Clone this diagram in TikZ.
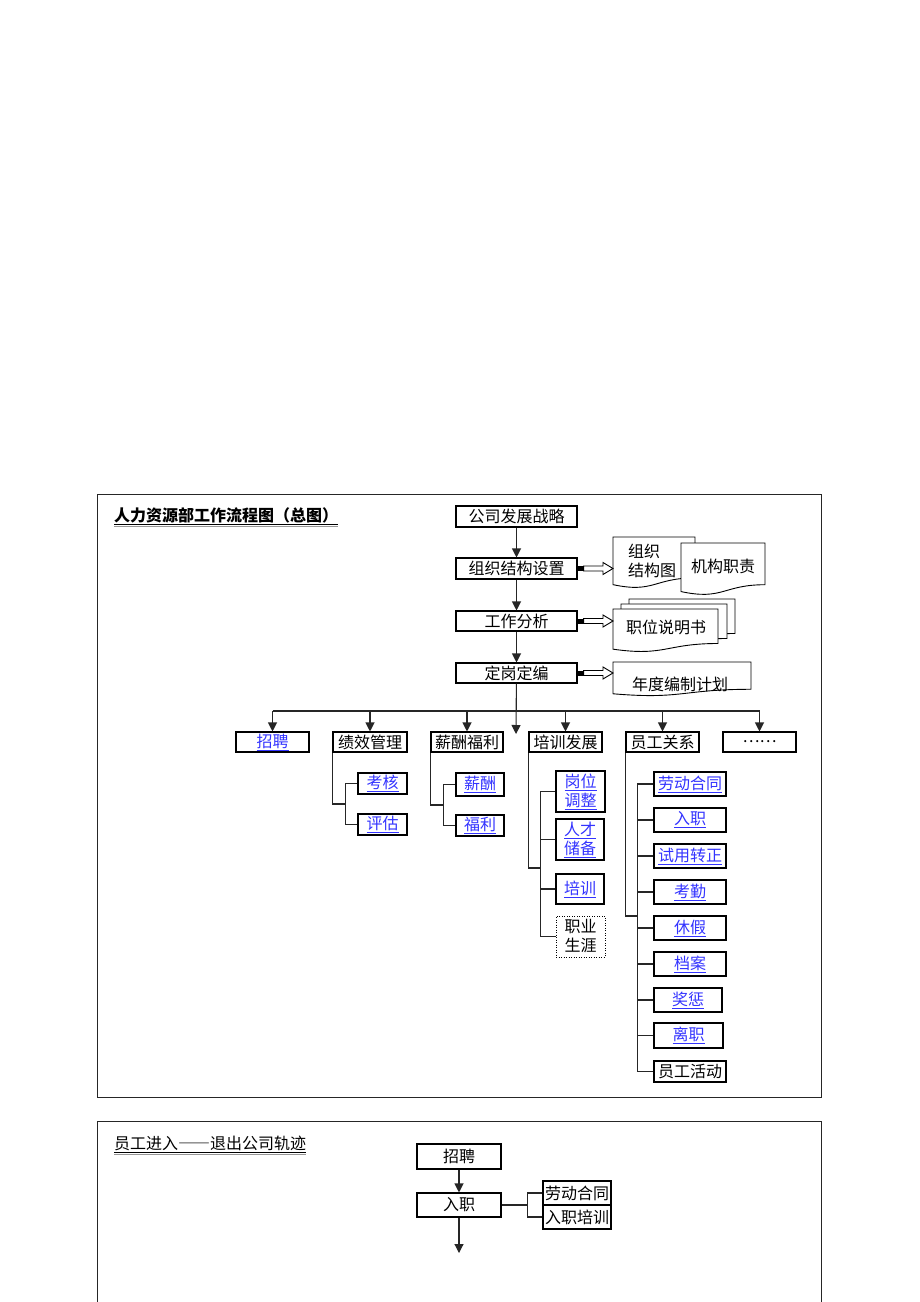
\documentclass[tikz,border=0pt]{standalone}
\usepackage{fontspec}
\setmainfont{Noto Sans CJK SC}
\usepackage{tikz}
\usetikzlibrary{arrows.meta,positioning,calc}

\definecolor{linkblue}{RGB}{51,51,255}
\definecolor{shadegray}{RGB}{150,150,150}
\newcommand{\lnk}[1]{\textcolor{linkblue}{\underline{#1}}}
% document shape with wavy bottom
\newcommand{\docshape}[4]{%
  \draw[line width=0.9pt,fill=white] (#1,#2) -- (#3,#2) -- (#3,{#2+0.802*(#4-#2)})
    .. controls ({(#1+#3)/2},{#2+0.802*(#4-#2)}) and ({(#1+#3)/2},{#2+1.1075*(#4-#2)}) ..
    (#1,{#2+0.934*(#4-#2)}) -- cycle;}
% hollow block arrow
\newcommand{\fatarrow}[2]{%
  \fill ($(#1)+(0,-2.5)$) rectangle ($(#1)+(6,2.5)$);
  \draw[line width=0.9pt,fill=white] ($(#1)+(6,-2.5)$) -- ($(#2)+(-10,-2.5)$) -- ($(#2)+(-10,-6)$)
    -- (#2) -- ($(#2)+(-10,6)$) -- ($(#2)+(-10,2.5)$) -- ($(#1)+(6,2.5)$) -- cycle;}

\begin{document}
\begin{tikzpicture}[x=1pt,y=-1pt,
    box/.style={draw,line width=1.1pt,inner sep=0pt,minimum height=21pt,
      font=\fontsize{16}{19}\selectfont,align=center},
    doctext/.style={inner sep=0pt,font=\fontsize{16}{19}\selectfont,align=left},
    conn/.style={line width=1.1pt,draw=black!85},
    arr/.style={conn,-{Triangle[width=9pt,length=9pt]}},
    frame/.style={line width=1pt,draw=black!85}]
  \useasboundingbox[fill=white] (0,0) rectangle (920,1302);

  % overall flow
  \draw[frame] (97,494) rectangle (821,1097);
  \node[anchor=base west,inner sep=0pt,font=\fontsize{16}{19}\selectfont\bfseries] (maintitle) at (114,521) {人力资源部工作流程图（总图）};
  \draw[line width=1pt] ([yshift=-3.5pt]maintitle.base west) -- ([yshift=-3.5pt]maintitle.base east);
  \draw[line width=1.5pt,shadegray] ([yshift=-5.5pt]maintitle.base west) -- ([yshift=-5.5pt]maintitle.base east);

  \node[box,minimum width=121pt] (strategy) at (516.5,516.5) {公司发展战略};
  \node[box,minimum width=121pt] (orgset) at (516.5,568.5) {组织结构设置};
  \node[box,minimum width=121pt,minimum height=20pt] (jobana) at (516.5,621) {工作分析};
  \node[box,minimum width=121pt,minimum height=20pt] (quota) at (516.5,673) {定岗定编};
  \draw[arr] (strategy) -- (orgset);
  \draw[arr] (orgset) -- (jobana);
  \draw[arr] (jobana) -- (quota);

  % output documents
  \docshape{613}{537}{695}{588}
  \docshape{681}{543}{765}{595}
  \node[doctext] (orgchart) at (652,561) {组织\\结构图};
  \node[doctext] (duty) at (723,566) {机构职责};
  \docshape{629}{599}{735}{642}
  \docshape{621}{604}{727}{647}
  \docshape{613}{609}{718}{652}
  \node[doctext] (jobdesc) at (666,627) {职位说明书};
  \docshape{613}{662}{751}{696}
  \node[doctext] (plan) at (680,684) {年度编制计划};

  \coordinate (chartin) at (613,568.5);
  \coordinate (descin) at (613,621);
  \coordinate (planin) at (613,673);
  \fatarrow{orgset.east}{chartin}
  \fatarrow{jobana.east}{descin}
  \fatarrow{quota.east}{planin}

  % function row
  \coordinate (bus) at (516,711);
  \coordinate (busend) at (516,734);
  \node[box,minimum width=73pt,minimum height=20pt] (recruit) at (272.5,742) {\lnk{招聘}};
  \node[box,minimum width=74pt,minimum height=20pt] (perf) at (370,742) {绩效管理};
  \node[box,minimum width=72pt,minimum height=20pt] (pay) at (467,742) {薪酬福利};
  \node[box,minimum width=73pt,minimum height=20pt] (train) at (565.5,742) {培训发展};
  \node[box,minimum width=73pt,minimum height=20pt] (rel) at (662.5,742) {员工关系};
  \node[box,minimum width=73pt,minimum height=20pt] (more) at (759.5,742) {……};
  \draw[arr] (quota) -- (busend);
  \draw[conn] (recruit.north |- bus) -- (more.north |- bus);
  \foreach \n in {recruit,perf,pay,train,rel,more}
    \draw[arr] (\n.north |- bus) -- (\n.north);

  % performance
  \node[box,minimum width=49pt] (assess) at (382.5,783.5) {\lnk{考核}};
  \node[box,minimum width=49pt] (evaluate) at (382.5,824.5) {\lnk{评估}};
  \draw[conn] (assess.west) -- ++(-12,0) |- (evaluate.west);
  \draw[conn] (perf.south west) |- ($(assess.west)!0.5!(evaluate.west)+(-12,0)$);

  % pay
  \node[box,minimum width=48pt,minimum height=23pt] (salary) at (480,784.5) {\lnk{薪酬}};
  \node[box,minimum width=48pt] (welfare) at (480,825.5) {\lnk{福利}};
  \draw[conn] (salary.west) -- ++(-12,0) |- (welfare.west);
  \draw[conn] (pay.south west) |- ($(salary.west)!0.5!(welfare.west)+(-12,0)$);

  % training
  \node[box,minimum width=49pt,minimum height=41pt] (adjust) at (580.5,791.5) {\lnk{岗位}\\\lnk{调整}};
  \node[box,minimum width=48pt,minimum height=41pt] (reserve) at (580,839.5) {\lnk{人才}\\\lnk{储备}};
  \node[box,minimum width=48pt,minimum height=30pt] (training) at (580,889) {\lnk{培训}};
  \node[box,line width=0.8pt,dash pattern=on 1pt off 1.5pt,minimum width=49pt,minimum height=41pt] (career) at (580.5,936.5) {职业\\生涯};
  \coordinate (trainjoin) at (541,868);
  \draw[conn] (adjust.west) -- ++(-15,0) |- (career.west);
  \draw[conn] (reserve.west) -- ++(-15,0);
  \draw[conn] (training.west) -- ++(-15,0);
  \draw[conn] (train.south west) |- (trainjoin);

  % employee relations
  \foreach \n/\t/\x/\y/\w/\h in {contract/劳动合同/690/784/72/24, entry/入职/690/820/72/24,
      probation/试用转正/690/856/72/24, attend/考勤/690/892/72/24, leave/休假/690/928/72/24,
      archive/档案/690/964/72/24, reward/奖惩/688/1000/68/24, resign/离职/688.5/1035.5/69/25}
    \node[box,minimum width=\w pt,minimum height=\h pt] (\n) at (\x,\y) {\lnk{\t}};
  \node[box,minimum width=72pt] (activity) at (690,1071.5) {员工活动};
  \coordinate (reljoin) at (638,916);
  \draw[conn] (contract.west) -- ++(-16,0) |- (activity.west);
  \foreach \n in {entry,probation,attend,leave,archive,reward,resign}
    \draw[conn] (\n.west) -- ++(-16,0);
  \draw[conn] (rel.south west) |- (reljoin);

  % employee track
  \draw[frame] (97,1302) -- (97,1121) -- (821,1121) -- (821,1302);
  \node[anchor=base west,inner sep=0pt,font=\fontsize{16}{19}\selectfont] (tracktitle) at (114,1149) {员工进入{\addfontfeatures{RawFeature=+fwid}——}退出公司轨迹};
  \draw[line width=1pt] ([yshift=-3.5pt]tracktitle.base west) -- ([yshift=-3.5pt]tracktitle.base east);
  \draw[line width=1.5pt,shadegray] ([yshift=-5.5pt]tracktitle.base west) -- ([yshift=-5.5pt]tracktitle.base east);

  \node[box,minimum width=84pt,minimum height=25pt] (hire) at (459,1156.5) {招聘};
  \node[box,minimum width=84pt,minimum height=24pt] (onboard) at (459,1205) {入职};
  \node[box,minimum width=68pt,minimum height=24pt] (labor) at (577,1193) {劳动合同};
  \node[box,minimum width=68pt,minimum height=24pt] (induct) at (577,1217) {入职培训};
  \coordinate (trackend) at (459,1253);
  \coordinate (trackjoin) at (528,1205);
  \draw[arr] (hire) -- (onboard);
  \draw[arr] (onboard) -- (trackend);
  \draw[conn] (onboard.east) -- (trackjoin);
  \draw[conn] (labor.west) -- ++(-15,0) |- (induct.west);
\end{tikzpicture}
\end{document}
